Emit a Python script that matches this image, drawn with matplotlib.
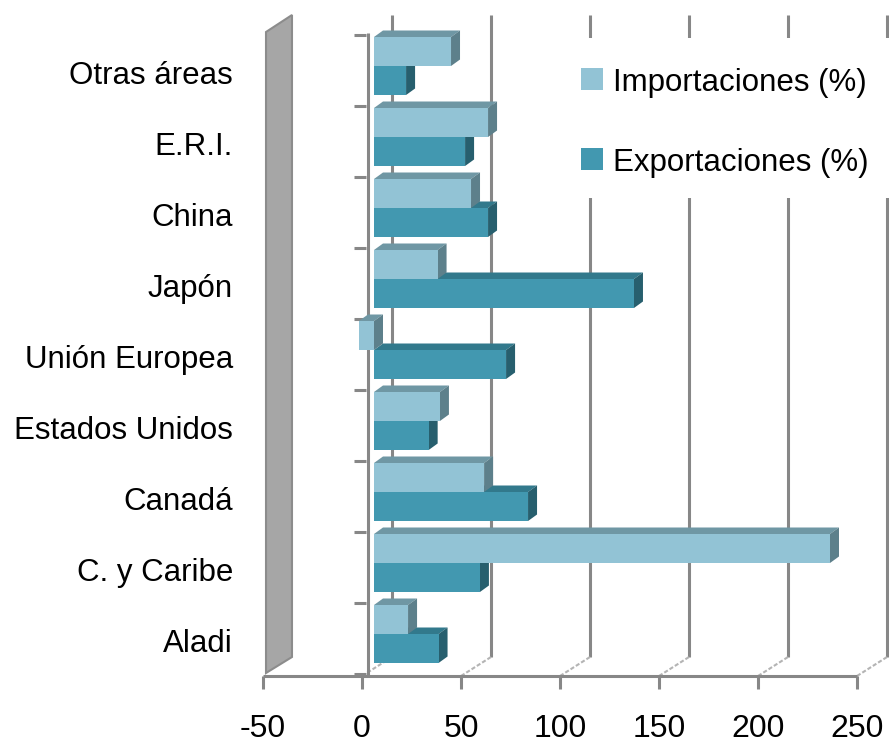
import numpy as np
import matplotlib.pyplot as plt
from matplotlib.patches import Rectangle, Polygon

plt.rcParams['font.family'] = ['Liberation Sans', 'DejaVu Sans']

# datos (de arriba hacia abajo)
categorias = ['Otras áreas', 'E.R.I.', 'China', 'Japón', 'Unión Europea',
              'Estados Unidos', 'Canadá', 'C. y Caribe', 'Aladi']
importaciones = [38.9, 57.6, 49.0, 32.1, -7.6, 33.3, 55.6, 230.3, 17.2]
exportaciones = [16.2, 46.0, 57.6, 131.3, 66.7, 27.6, 77.8, 53.5, 32.6]
ticks_x = [-50, 0, 50, 100, 150, 200, 250]
series = ['Importaciones (%)', 'Exportaciones (%)']

c_imp = ('#92c3d5', '#6f97a4', '#5d808b')   # frente, arriba, lado
c_exp = ('#4298b0', '#32798c', '#275f6e')
grid_c = '#878787'

W, H = 889, 744
fig = plt.figure(figsize=(W / 100, H / 100), dpi=100)
ax = fig.add_axes([0, 0, 1, 1])
ax.set_axis_off()

# escala: 1.98 px por unidad, 0 de las barras en x=374 px; 71 px por categoria
sx = 1.98
x0px = 374
ax.set_xlim(-x0px / sx, (W - x0px) / sx)
ax.set_ylim((H - 66) / 71, -66 / 71)


def px_x(p):
    return (p - x0px) / sx


def px_y(p):
    return (p - 66) / 71


front = px_x(362)      # desplazamiento del plano frontal
back = px_x(392)       # desplazamiento de la pared del fondo
y_front = px_y(676)
y_back = px_y(657)
y_top = px_y(15)

# pared izquierda gris
ax.add_patch(Polygon([(px_x(266), px_y(673)), (px_x(292), px_y(657)),
                      (px_x(292), y_top), (px_x(266), px_y(32))],
                     closed=True, fc='#a6a6a6', ec='#8c8c8c', lw=1.5, zorder=1))

# lineas de la pared del fondo y del piso
for v in ticks_x[1:]:
    ax.plot([v + back, v + back], [y_top, y_back], color=grid_c, lw=2.2,
            zorder=1, solid_capstyle='butt')
    ax.plot([v + front, v + back], [y_front, y_back], color='#b4b4b4', lw=1.5,
            ls=(0, (2, 1)), zorder=1)

# eje de valores (frontal)
ax.plot([ticks_x[0] + front, ticks_x[-1] + front], [y_front, y_front],
        color=grid_c, lw=2.2, zorder=2, solid_capstyle='butt')
for v in ticks_x:
    ax.plot([v + front, v + front], [y_front, px_y(689)], color=grid_c, lw=2.2,
            zorder=2, solid_capstyle='butt')
    ax.text(v + front, px_y(737), str(v), ha='center', va='baseline',
            fontsize=23, zorder=6)

# eje de categorias
ax.plot([px_x(368), px_x(368)], [px_y(33), y_front], color=grid_c, lw=2.2,
        zorder=2, solid_capstyle='butt')
for k in range(len(categorias) + 1):
    yk = k - 31 / 71
    ax.plot([px_x(354), px_x(366)], [yk, yk], color=grid_c, lw=2.2, zorder=2,
            solid_capstyle='butt')

# barras 3D
pos = np.arange(len(categorias))
h = 29 / 71
dx = 9 / sx
dy = 6.5 / 71


def caras(vals, yc, cols, z):
    for v, y in zip(vals, yc):
        a, b = min(0, v), max(0, v)
        y0, y1 = y - h / 2, y + h / 2
        ax.add_patch(Polygon([(a, y0), (a + dx, y0 - dy), (b + dx, y0 - dy), (b, y0)],
                             closed=True, fc=cols[1], ec='none', zorder=z))
        ax.add_patch(Polygon([(b, y0), (b + dx, y0 - dy), (b + dx, y1 - dy), (b, y1)],
                             closed=True, fc=cols[2], ec='none', zorder=z))


caras(exportaciones, pos + h / 2, c_exp, 3.0)
ax.barh(pos + h / 2, exportaciones, height=h, color=c_exp[0], zorder=3.1)
caras(importaciones, pos - h / 2, c_imp, 3.2)
ax.barh(pos - h / 2, importaciones, height=h, color=c_imp[0], zorder=3.3)

# etiquetas de categorias
for i, c in enumerate(categorias):
    ax.text(px_x(233), i + 18 / 71, c, ha='right', va='baseline',
            fontsize=22.5, zorder=6)

# leyenda
ax.add_patch(Rectangle((px_x(572), px_y(38)), px_x(889) - px_x(572),
                       px_y(198) - px_y(38), fc='white', ec='none', zorder=4))
ley_y = [68, 148]
for s, col, yy in zip(series, [c_imp[0], c_exp[0]], ley_y):
    ax.add_patch(Rectangle((px_x(581), px_y(yy)), 22 / sx, 22 / 71, fc=col,
                           ec='none', zorder=5))
    ax.text(px_x(613), px_y(yy + 23), s, ha='left', va='baseline', fontsize=22.5,
            zorder=6)

fig.savefig('out.png', dpi=100)
